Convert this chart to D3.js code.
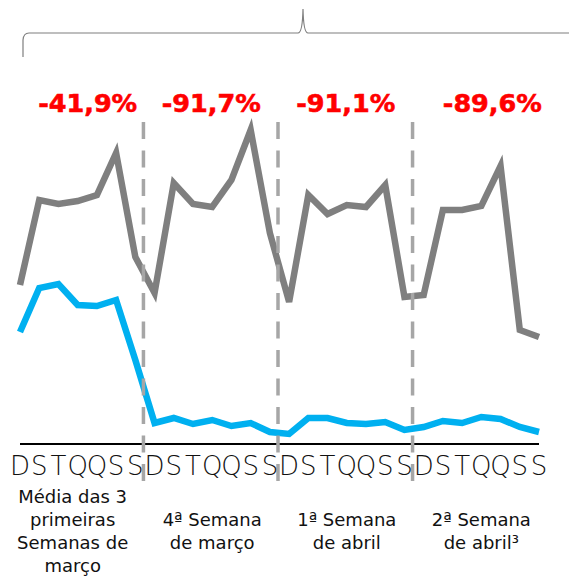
<!DOCTYPE html>
<html>
<head>
<meta charset="utf-8">
<script src="https://cdn.jsdelivr.net/npm/d3@7"></script>
<style>
  body { margin: 0; background: #fff; }
  svg { display: block; }
</style>
</head>
<body>
<div id="chart"></div>
<script>
// Dias da semana e semanas
var days = ["D", "S", "T", "Q", "Q", "S", "S"];
var weeks = [
  ["Média das 3", "primeiras", "Semanas de", "março"],
  ["4ª Semana", "de março"],
  ["1ª Semana", "de abril"],
  ["2ª Semana", "de abril³"]
];
var changes = ["-41,9%", "-91,7%", "-91,1%", "-89,6%"];

// Series (relative units)
var grayValues = [158, 243, 239, 242, 248, 290, 186,
                  150, 260, 239, 236, 263, 313, 210,
                  141, 248, 229, 238, 236, 258, 146,
                  148, 233, 233, 237, 277, 113, 106];
var blueValues = [111, 155, 159, 138, 137, 143, 83,
                  20, 25, 19, 23, 17, 20, 11,
                  9, 25, 25, 20, 19, 21, 13,
                  16, 22, 20, 26, 24, 16, 11];

var width = 569;
var height = 577;

var svg = d3.select("#chart")
  .append("svg")
  .attr("width", width)
  .attr("height", height);

var n = grayValues.length;

// scales
var x = d3.scaleLinear()
  .domain([0, n - 1])
  .range([20, 539]);

var y = d3.scaleLinear()
  .domain([0, 343])
  .range([443, 100]);

var line = d3.line()
  .x(function(d, i) { return x(i); })
  .y(function(d) { return y(d); });

// top brace
var b = d3.path();
b.moveTo(23, 57);
b.lineTo(23, 40);
b.quadraticCurveTo(23.5, 33, 29, 33);
b.lineTo(298, 33);
b.quadraticCurveTo(302.5, 33, 303, 9);
b.quadraticCurveTo(303.5, 33, 308, 33);
b.lineTo(569, 33);
svg.append("path")
  .attr("d", b.toString())
  .attr("fill", "none")
  .attr("stroke", "#7f7f7f")
  .attr("stroke-width", 1.2);

// axis line
svg.append("line")
  .attr("x1", x(0))
  .attr("x2", x(n - 1))
  .attr("y1", 444)
  .attr("y2", 444)
  .attr("stroke", "#000")
  .attr("stroke-width", 2);

// lines
svg.append("path")
  .datum(grayValues)
  .attr("d", line)
  .attr("fill", "none")
  .attr("stroke", "#7f7f7f")
  .attr("stroke-width", 6.5)
  .attr("stroke-linejoin", "miter");

svg.append("path")
  .datum(blueValues)
  .attr("d", line)
  .attr("fill", "none")
  .attr("stroke", "#00b0f0")
  .attr("stroke-width", 6.5)
  .attr("stroke-linejoin", "miter");

// dashed dividers between weeks
var dividers = d3.range(1, weeks.length);
svg.selectAll(".divider")
  .data(dividers)
  .enter()
  .append("line")
  .attr("class", "divider")
  .attr("x1", function(w) { return (x(w * 7 - 1) + x(w * 7)) / 2 - 1.5; })
  .attr("x2", function(w) { return (x(w * 7 - 1) + x(w * 7)) / 2 - 1.5; })
  .attr("y1", 122)
  .attr("y2", 484)
  .attr("stroke", "#a6a6a6")
  .attr("stroke-width", 3.5)
  .attr("stroke-dasharray", "17,11.5");

// day letters
var dayIdx = d3.range(n);
svg.selectAll(".day")
  .data(dayIdx)
  .enter()
  .append("text")
  .attr("class", "day")
  .attr("x", function(i) { return x(i); })
  .attr("y", 475)
  .attr("text-anchor", "middle")
  .style("font-family", "'DejaVu Sans'")
  .style("font-weight", 200)
  .style("font-size", "26px")
  .style("fill", "#111")
  .text(function(i) { return days[i % 7]; });

function weekCenter(w) {
  return (x(w * 7) + x(w * 7 + 6)) / 2;
}

// percent change labels
var pctShift = [10, -1, -1, 11];
svg.selectAll(".pct")
  .data(changes)
  .enter()
  .append("text")
  .attr("class", "pct")
  .attr("x", function(d, i) { return weekCenter(i) + pctShift[i]; })
  .attr("y", 112)
  .attr("text-anchor", "middle")
  .style("font-family", "'DejaVu Sans'")
  .style("font-weight", "bold")
  .style("font-size", "25.5px")
  .style("fill", "#ff0000")
  .style("stroke", "#ff0000")
  .style("stroke-width", 0.6)
  .text(function(d) { return d; });

// week labels
var wl = svg.selectAll(".week")
  .data(weeks)
  .enter()
  .append("text")
  .attr("class", "week")
  .attr("text-anchor", "middle")
  .style("font-family", "'DejaVu Sans'")
  .style("font-size", "18px")
  .style("fill", "#111");

wl.each(function(lines, i) {
  var t = d3.select(this);
  var first = lines.length > 2 ? 0 : 1;
  lines.forEach(function(s, k) {
    t.append("tspan")
      .attr("x", weekCenter(i) - (i === 0 ? 5 : 0))
      .attr("y", 503 + (first + k) * 23)
      .text(s);
  });
});
</script>
</body>
</html>
